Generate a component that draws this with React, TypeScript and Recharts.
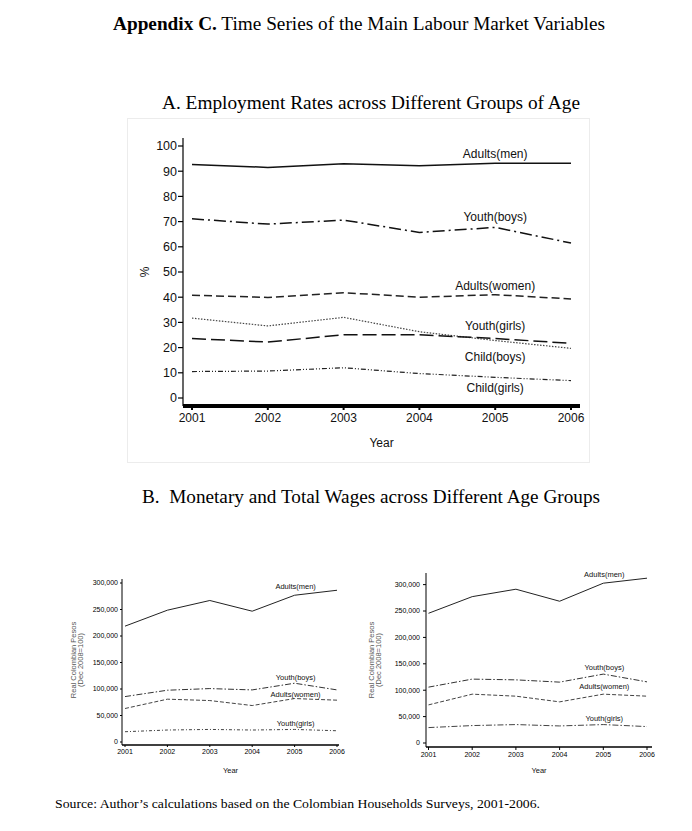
import React from 'react';
import { LineChart, Line, XAxis, YAxis } from 'recharts';

const years = [2001, 2002, 2003, 2004, 2005, 2006];

// Panel A: employment rates (%)
const adultsMenEmp = [92.7, 91.5, 93.0, 92.2, 93.2, 93.2];
const youthBoysEmp = [71.1, 69.0, 70.6, 65.7, 67.7, 61.5];
const adultsWomenEmp = [40.8, 39.9, 41.8, 40.0, 41.0, 39.3];
const youthGirlsEmp = [31.7, 28.6, 32.0, 26.3, 22.8, 19.7];
const childBoysEmp = [23.6, 22.2, 25.1, 25.1, 23.6, 21.7];
const childGirlsEmp = [10.5, 10.7, 12.0, 9.7, 8.2, 6.9];

// Panel B left: monetary wages
const adultsMenMon = [218600, 248700, 267000, 246800, 276900, 286300];
const youthBoysMon = [85700, 97700, 100800, 98300, 110900, 98300];
const adultsWomenMon = [63200, 80800, 78200, 68800, 82000, 78900];
const youthGirlsMon = [19400, 22600, 23700, 22600, 23700, 21200];

// Panel B right: total wages
const adultsMenTot = [245700, 277200, 291300, 268500, 302700, 312200];
const youthBoysTot = [105800, 121000, 119600, 115300, 130500, 115800];
const adultsWomenTot = [72200, 92500, 88700, 77900, 92500, 88700];
const youthGirlsTot = [29200, 33000, 34900, 32300, 34900, 31100];

const empTicks = [0, 10, 20, 30, 40, 50, 60, 70, 80, 90, 100];
const wageTicks = [0, 50000, 100000, 150000, 200000, 250000, 300000];

const empData = years.map((year, i) => ({
    year,
    adultsMen: adultsMenEmp[i],
    youthBoys: youthBoysEmp[i],
    adultsWomen: adultsWomenEmp[i],
    youthGirls: youthGirlsEmp[i],
    childBoys: childBoysEmp[i],
    childGirls: childGirlsEmp[i],
}));

const monData = years.map((year, i) => ({
    year,
    adultsMen: adultsMenMon[i],
    youthBoys: youthBoysMon[i],
    adultsWomen: adultsWomenMon[i],
    youthGirls: youthGirlsMon[i],
}));

const totData = years.map((year, i) => ({
    year,
    adultsMen: adultsMenTot[i],
    youthBoys: youthBoysTot[i],
    adultsWomen: adultsWomenTot[i],
    youthGirls: youthGirlsTot[i],
}));

const SANS = 'Liberation Sans, Arial, sans-serif';
const SERIF = 'Liberation Serif, Times New Roman, serif';

const fmt = (v: number) => v.toLocaleString('en-US');

// series name printed next to the 2005 point
const seriesLabel = (text: string, dy: number, size: number, dx = 0) => (props: any) => {
    if (props.index !== 4) return null;
    const x = props.x ?? props.viewBox?.x;
    const y = props.y ?? props.viewBox?.y;
    return (
        <text x={x + dx} y={y + dy} textAnchor="middle" dominantBaseline="central"
            fontSize={size} fontFamily={SANS} fill="#111">{text}</text>
    );
};

const xTitle = (text: string, dy: number, size: number) => (props: any) => {
    const vb = props.viewBox;
    return (
        <text x={vb.x + vb.width / 2} y={vb.y + dy} textAnchor="middle" dominantBaseline="central"
            fontSize={size} fontFamily={SANS} fill="#111">{text}</text>
    );
};

const yTitle = (lines: string[], xs: number[], dy: number, size: number, color: string) => (props: any) => {
    const vb = props.viewBox;
    const cy = vb.y + vb.height / 2 + dy;
    return (
        <g>
            {lines.map((l, i) => (
                <text key={i} x={vb.x + xs[i]} y={cy} textAnchor="middle" dominantBaseline="central"
                    transform={`rotate(-90 ${vb.x + xs[i]} ${cy})`}
                    fontSize={size} fontFamily={SANS} fill={color}>{l}</text>
            ))}
        </g>
    );
};

const WageChart = ({ data, left, top, width, height, margin, yWidth, yMax, yPad, xPad, xAxisH,
    tickSize, tickMargin, xTickSize, xTickMargin, yearDy, titleXs, titleDy, labels, girlsDash }: any) => (
    <div style={{ position: 'absolute', left, top }}>
        <LineChart width={width} height={height} data={data} margin={margin}>
            <XAxis dataKey="year" padding={xPad} height={xAxisH}
                axisLine={{ stroke: '#000', strokeWidth: 1.6 }}
                tickLine={{ stroke: '#000' }} tickSize={xTickSize} tickMargin={xTickMargin}
                tick={{ fontSize: 7, fontFamily: SANS, fill: '#000' }}
                label={xTitle('Year', yearDy, 7.5)} />
            <YAxis type="number" domain={[0, yMax]} ticks={wageTicks} width={yWidth} padding={yPad}
                tickFormatter={fmt} interval={0}
                axisLine={{ stroke: '#000' }} tickLine={{ stroke: '#000' }}
                tickSize={tickSize} tickMargin={tickMargin}
                tick={{ fontSize: 7, fontFamily: SANS, fill: '#000' }}
                label={yTitle(['Real Colombian Pesos', '(Dec 2008=100)'], titleXs, titleDy, 7.5, '#555')} />
            <Line dataKey="adultsMen" stroke="#222" strokeWidth={1} dot={false} isAnimationActive={false}
                label={seriesLabel('Adults(men)', labels[0], 7.5, 1)} />
            <Line dataKey="youthBoys" stroke="#333" strokeWidth={1} strokeDasharray="6 2 1.5 2" dot={false}
                isAnimationActive={false} label={seriesLabel('Youth(boys)', labels[1], 7.5, 1)} />
            <Line dataKey="adultsWomen" stroke="#444" strokeWidth={1} strokeDasharray="4 2" dot={false}
                isAnimationActive={false} label={seriesLabel('Adults(women)', labels[2], 7.5, 1)} />
            <Line dataKey="youthGirls" stroke="#444" strokeWidth={1} strokeDasharray={girlsDash} dot={false}
                isAnimationActive={false} label={seriesLabel('Youth(girls)', labels[3], 7.5, 1)} />
        </LineChart>
    </div>
);

export default function App() {
    return (
        <div style={{ position: 'absolute', left: 0, top: 0, width: 692, height: 831, background: '#fff' }}>
            <svg width={692} height={831} style={{ position: 'absolute', left: 0, top: 0 }}>
                <text x={113} y={30} fontFamily={SERIF} fontSize={18.5} fill="#000"
                    textLength={492} lengthAdjust="spacingAndGlyphs">
                    <tspan fontWeight="bold">Appendix C.</tspan>
                    {' Time Series of the Main Labour Market Variables'}
                </text>
                <text x={162} y={109} fontFamily={SERIF} fontSize={18} fill="#000"
                    textLength={418} lengthAdjust="spacingAndGlyphs">
                    A. Employment Rates across Different Groups of Age
                </text>
                <text x={142} y={503} fontFamily={SERIF} fontSize={18} fill="#000"
                    textLength={458} lengthAdjust="spacingAndGlyphs">
                    {'B.\u00A0 Monetary and Total Wages across Different Age Groups'}
                </text>
                <text x={55} y={808} fontFamily={SERIF} fontSize={13.5} fill="#000"
                    textLength={485} lengthAdjust="spacingAndGlyphs">
                    Source: Author’s calculations based on the Colombian Households Surveys, 2001-2006.
                </text>
            </svg>

            <div style={{ position: 'absolute', left: 127, top: 118, width: 463, height: 345,
                border: '1px solid #ececec', boxSizing: 'border-box' }} />
            <div style={{ position: 'absolute', left: 127, top: 118 }}>
                <LineChart width={463} height={345} data={empData} margin={{ top: 20, right: 10, left: 0, bottom: 0 }}>
                    <XAxis dataKey="year" padding={{ left: 9, right: 9 }} height={57}
                        axisLine={{ stroke: '#000', strokeWidth: 4 }}
                        tickLine={{ stroke: '#000', strokeWidth: 2 }} tickSize={4} tickMargin={3}
                        tick={{ fontSize: 12, fontFamily: SANS, fill: '#111' }}
                        label={xTitle('Year', 37, 12)} />
                    <YAxis type="number" domain={[0, 100]} ticks={empTicks} interval={0} width={56}
                        padding={{ top: 8, bottom: 8 }}
                        axisLine={{ stroke: '#000', strokeWidth: 1.2 }} tickLine={{ stroke: '#000', strokeWidth: 1.2 }}
                        tickSize={5} tickMargin={1}
                        tick={{ fontSize: 12.5, fontFamily: SANS, fill: '#111' }}
                        label={yTitle(['%'], [18], 0, 12, '#111')} />
                    <Line dataKey="adultsMen" stroke="#111" strokeWidth={1.5} dot={false} isAnimationActive={false}
                        label={seriesLabel('Adults(men)', -9, 12)} />
                    <Line dataKey="youthBoys" stroke="#111" strokeWidth={1.5} strokeDasharray="12 4 2 4" dot={false}
                        isAnimationActive={false} label={seriesLabel('Youth(boys)', -10, 12)} />
                    <Line dataKey="adultsWomen" stroke="#222" strokeWidth={1.5} strokeDasharray="8 4" dot={false}
                        isAnimationActive={false} label={seriesLabel('Adults(women)', -9, 12)} />
                    <Line dataKey="youthGirls" stroke="#444" strokeWidth={1.2} strokeDasharray="1.5 1.5" dot={false}
                        isAnimationActive={false} label={seriesLabel('Youth(girls)', -15, 12)} />
                    <Line dataKey="childBoys" stroke="#111" strokeWidth={1.5} strokeDasharray="14 5" dot={false}
                        isAnimationActive={false} label={seriesLabel('Child(boys)', 18, 12)} />
                    <Line dataKey="childGirls" stroke="#222" strokeWidth={1.2} strokeDasharray="5 2 1 2 1 2" dot={false}
                        isAnimationActive={false} label={seriesLabel('Child(girls)', 11, 12)} />
                </LineChart>
            </div>

            <WageChart data={monData} left={40} top={570} width={310} height={210}
                margin={{ top: 9, right: 11, left: 0, bottom: 0 }} yWidth={82} yMax={300000}
                yPad={{ top: 4, bottom: 3 }} xPad={{ left: 3, right: 2 }} xAxisH={35}
                tickSize={2} tickMargin={2} xTickSize={2} xTickMargin={2}
                yearDy={25.5} titleXs={[33.5, 40.5]} titleDy={-2}
                labels={[-8.5, -6, -4.5, -5.5]} girlsDash="3 2 1 2" />

            <WageChart data={totData} left={360} top={565} width={310} height={215}
                margin={{ top: 8, right: 18, left: 0, bottom: 0 }} yWidth={66} yMax={322000}
                yPad={{ top: 0, bottom: 4 }} xPad={{ left: 2.5, right: 5 }} xAxisH={33}
                tickSize={3} tickMargin={3} xTickSize={3} xTickMargin={2.5}
                yearDy={23.7} titleXs={[11.7, 18]} titleDy={0}
                labels={[-8.5, -7, -7.5, -6.5]} girlsDash="6 2 1.5 2" />
        </div>
    );
}
